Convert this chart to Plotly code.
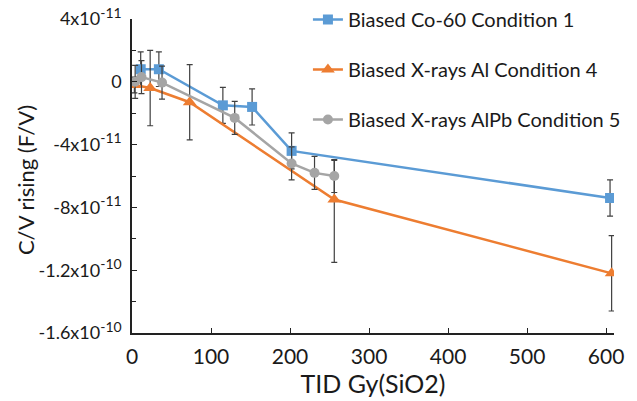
import plotly.graph_objects as go

# Dose (Gy SiO2) and C/V rising slope (F/V) for each irradiation condition
co60_dose = [11, 34, 115, 152, 202, 605]
co60_cv = [0.8e-11, 0.8e-11, -1.5e-11, -1.6e-11, -4.4e-11, -7.4e-11]
co60_err = [1.1e-11, 1.1e-11, 1.15e-11, 1.15e-11, 1.15e-11, 1.15e-11]

xal_dose = [3, 23, 73, 256, 607]
xal_cv = [-0.2e-11, -0.4e-11, -1.3e-11, -7.5e-11, -12.2e-11]
xal_err_plus = [0.5e-11, 2.4e-11, 2.4e-11, 2.5e-11, 2.4e-11]
xal_err_minus = [0.5e-11, 2.4e-11, 2.4e-11, 4.0e-11, 2.4e-11]

xalpb_dose = [4, 12, 38, 130, 202, 231, 256]
xalpb_cv = [0.0, 0.3e-11, -0.05e-11, -2.3e-11, -5.2e-11, -5.8e-11, -6.0e-11]
xalpb_err = [1.05e-11] * 7

series_names = [
    "Biased Co-60 Condition 1",
    "Biased X-rays Al Condition 4",
    "Biased X-rays AlPb Condition 5",
]

y_tick_vals = [4e-11, 0, -4e-11, -8e-11, -1.2e-10, -1.6e-10]
y_tick_mant = ["4", "0", "-4", "-8", "-1.2", "-1.6"]
y_tick_exp = ["-11", None, "-11", "-11", "-10", "-10"]
x_tick_vals = [0, 100, 200, 300, 400, 500, 600]


def sci_label(mant, exp):
    """Tick text as mantissa x 10 with a raised exponent."""
    if exp is None:
        return mant
    return f"{mant}x10<sup><span style='font-size:14px'>{exp}</span></sup>"


y_tick_text = [sci_label(m, e) for m, e in zip(y_tick_mant, y_tick_exp)]

BLUE = "#5B9BD5"
ORANGE = "#ED7D31"
GREY = "#A5A5A5"
ERR = "#404040"
FONT = "Lato, Open Sans, sans-serif"

fig = go.Figure()

fig.add_trace(go.Scatter(
    x=co60_dose, y=co60_cv, name=series_names[0], legendgroup="a",
    mode="lines+markers",
    line=dict(color=BLUE, width=2.5),
    marker=dict(symbol="square", size=10, color=BLUE),
    error_y=dict(type="data", array=co60_err, color=ERR, thickness=1.2, width=3),
))
fig.add_trace(go.Scatter(
    x=xal_dose, y=xal_cv, name=series_names[1], legendgroup="b",
    mode="lines+markers",
    line=dict(color=ORANGE, width=2.5),
    marker=dict(symbol="triangle-up", size=12, color=ORANGE),
    error_y=dict(type="data", symmetric=False, array=xal_err_plus,
                 arrayminus=xal_err_minus, color=ERR, thickness=1.2, width=3),
))
fig.add_trace(go.Scatter(
    x=xalpb_dose, y=xalpb_cv, name=series_names[2], legendgroup="c",
    mode="lines+markers",
    line=dict(color=GREY, width=2.5),
    marker=dict(symbol="circle", size=10, color=GREY),
    error_y=dict(type="data", array=xalpb_err, color=ERR, thickness=1.2, width=3),
))

fig.update_layout(
    width=637, height=401,
    margin=dict(l=132, r=23, t=19, b=68, autoexpand=False),
    paper_bgcolor="white", plot_bgcolor="white",
    font=dict(family=FONT, color="#1a1a1a", size=20),
    legend=dict(
        x=0.365, y=1.0, xanchor="left", yanchor="top", yref="container",
        bgcolor="rgba(0,0,0,0)", font=dict(size=20, family=FONT),
        tracegroupgap=21, itemwidth=30,
    ),
    xaxis=dict(
        range=[0, 610], tickvals=x_tick_vals,
        showgrid=False, zeroline=False,
        showline=True, linecolor="#222", linewidth=1.5,
        ticks="inside", ticklen=5, tickcolor="#222",
        tickfont=dict(size=21), ticklabelstandoff=4,
        title=dict(text="TID Gy(SiO2)", font=dict(size=25), standoff=0),
    ),
    yaxis=dict(
        range=[-1.6e-10, 4e-11], tickvals=y_tick_vals, ticktext=y_tick_text,
        showgrid=False, zeroline=False,
        showline=True, linecolor="#222", linewidth=1.5,
        ticks="inside", ticklen=5, tickcolor="#222",
        minor=dict(dtick=2e-11, ticks="inside", ticklen=4, tickcolor="#222"),
        tickfont=dict(size=18), ticklabelstandoff=5,
    ),
    annotations=[dict(
        text="C/V rising (F/V)", textangle=-90,
        xref="paper", yref="paper", x=-0.222, y=0.487,
        xanchor="center", yanchor="middle", showarrow=False,
        font=dict(size=22, family=FONT),
    )],
)

fig.write_html("out.html")
